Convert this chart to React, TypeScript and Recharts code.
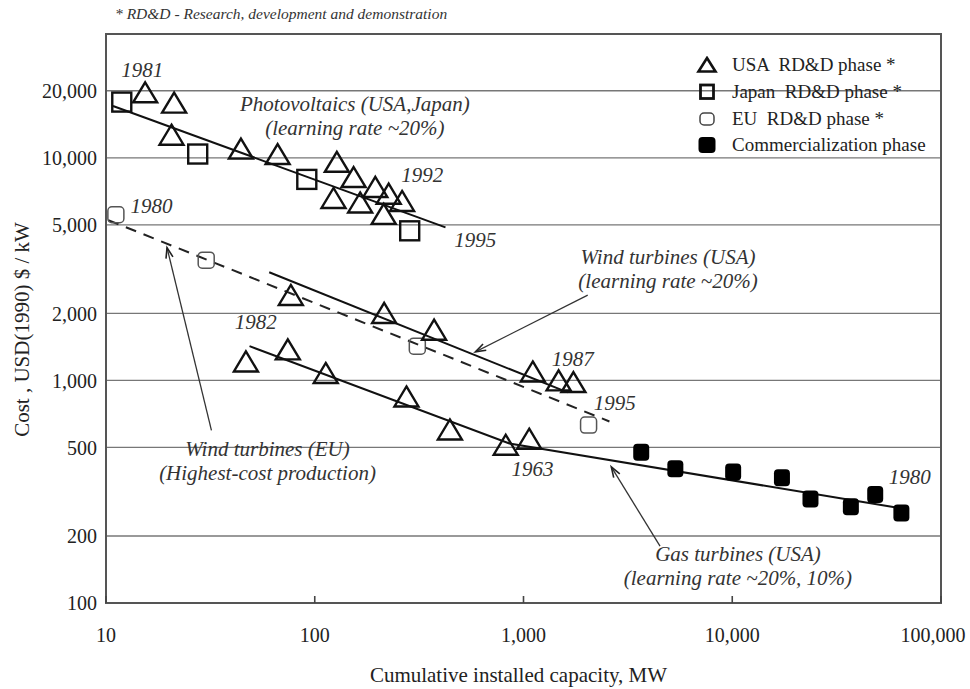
import React from "react";
import {
  ScatterChart,
  Scatter,
  XAxis,
  YAxis,
  CartesianGrid,
  ReferenceArea,
  ReferenceLine,
  ReferenceDot,
  Legend,
} from "recharts";

const FONT = '"Liberation Serif", "Times New Roman", Times, serif';

type Point = { mw: number; cost: number };

const xTicks = [10, 100, 1000, 10000, 100000];
const yTicks = [100, 200, 500, 1000, 2000, 5000, 10000, 20000];

// Photovoltaics (cumulative MW, USD(1990)/kW)
const pvUsa: Point[] = [
  { mw: 15.4, cost: 19700 },
  { mw: 21.2, cost: 17700 },
  { mw: 20.6, cost: 12700 },
  { mw: 44.3, cost: 11000 },
  { mw: 66.4, cost: 10400 },
  { mw: 127.6, cost: 9600 },
  { mw: 153.5, cost: 8200 },
  { mw: 195, cost: 7400 },
  { mw: 226, cost: 6900 },
  { mw: 262, cost: 6400 },
  { mw: 123, cost: 6600 },
  { mw: 165, cost: 6300 },
  { mw: 214, cost: 5600 },
];
const pvJapan: Point[] = [
  { mw: 11.9, cost: 17800 },
  { mw: 27.5, cost: 10400 },
  { mw: 91.6, cost: 8000 },
  { mw: 285, cost: 4700 },
];

// Wind turbines
const windEu: Point[] = [
  { mw: 11.15, cost: 5550 },
  { mw: 30.2, cost: 3470 },
  { mw: 310, cost: 1425 },
  { mw: 2050, cost: 630 },
];
const windUsa: Point[] = [
  { mw: 76.8, cost: 2420 },
  { mw: 215, cost: 2010 },
  { mw: 373, cost: 1690 },
  { mw: 1108, cost: 1097 },
  { mw: 1473, cost: 1000 },
  { mw: 1734, cost: 983 },
];

// Gas turbines
const gasUsa: Point[] = [
  { mw: 46.8, cost: 1217 },
  { mw: 74.3, cost: 1378 },
  { mw: 112.9, cost: 1080 },
  { mw: 275, cost: 847 },
  { mw: 444, cost: 602 },
  { mw: 822, cost: 514 },
  { mw: 1065, cost: 547 },
];
const gasCommercial: Point[] = [
  { mw: 3664, cost: 476 },
  { mw: 5338, cost: 401 },
  { mw: 10100, cost: 388 },
  { mw: 17300, cost: 365 },
  { mw: 23700, cost: 293 },
  { mw: 37000, cost: 271 },
  { mw: 48400, cost: 307 },
  { mw: 64600, cost: 254 },
];

// learning curves
const pvFit: Point[] = [
  { mw: 10.8, cost: 17100 },
  { mw: 423, cost: 4870 },
];
const windEuFit: Point[] = [
  { mw: 10.25, cost: 5250 },
  { mw: 2580, cost: 654 },
];
const windUsaFit: Point[] = [
  { mw: 60.5, cost: 3060 },
  { mw: 1628, cost: 883 },
];
const gasFit: Point[] = [
  { mw: 48.7, cost: 1425 },
  { mw: 856, cost: 521 },
  { mw: 66300, cost: 265 },
];

// annotations, anchored in data units
const notes = [
  { mw: 14.9, cost: 24700, lines: ["1981"] },
  { mw: 155.7, cost: 17530, lines: ["Photovoltaics (USA,Japan)", "(learning rate ~20%)"] },
  { mw: 326.9, cost: 8340, lines: ["1992"] },
  { mw: 588, cost: 4258, lines: ["1995"] },
  { mw: 16.5, cost: 6060, lines: ["1980"] },
  { mw: 4924, cost: 3593, lines: ["Wind turbines (USA)", "(learning rate ~20%)"] },
  { mw: 52.1, cost: 1823, lines: ["1982"] },
  { mw: 1720, cost: 1248, lines: ["1987"] },
  { mw: 2739, cost: 788, lines: ["1995"] },
  { mw: 1105, cost: 401, lines: ["1963"] },
  { mw: 70800, cost: 368, lines: ["1980"] },
  { mw: 59.4, cost: 494, lines: ["Wind turbines (EU)", "(Highest-cost production)"] },
  { mw: 10650, cost: 165.5, lines: ["Gas turbines (USA)", "(learning rate ~20%, 10%)"] },
];

const arrows: [Point, Point][] = [
  [{ mw: 2031, cost: 2415 }, { mw: 588, cost: 1344 }],
  [{ mw: 32, cost: 596 }, { mw: 19.6, cost: 3949 }],
  [{ mw: 4508, cost: 180 }, { mw: 2634, cost: 409 }],
];

const legendItems = [
  { kind: "usa", label: "USA  RD&D phase *" },
  { kind: "japan", label: "Japan  RD&D phase *" },
  { kind: "eu", label: "EU  RD&D phase *" },
  { kind: "com", label: "Commercialization phase" },
];

const fmt = (v: number) => v.toLocaleString("en-US");

function TriangleMark({ cx, cy }: any) {
  return (
    <path
      d={`M${cx},${cy - 10} L${cx + 12},${cy + 10} L${cx - 12},${cy + 10} Z`}
      fill="none"
      stroke="#111"
      strokeWidth={2.4}
    />
  );
}

function SquareMark({ cx, cy }: any) {
  return <rect x={cx - 9.5} y={cy - 9.5} width={19} height={19} fill="none" stroke="#111" strokeWidth={2.4} />;
}

function EuMark({ cx, cy }: any) {
  return <rect x={cx - 8} y={cy - 8} width={16} height={16} rx={4} fill="none" stroke="#555" strokeWidth={1.5} />;
}

function CommercialMark({ cx, cy }: any) {
  return <rect x={cx - 8} y={cy - 8.5} width={16} height={17} rx={4} fill="#000" />;
}

const NoMark = () => <g />;

function Arrow(props: any) {
  const { x1, y1, x2, y2 } = props;
  const a = Math.atan2(y2 - y1, x2 - x1);
  const len = 11;
  const spread = 0.33;
  const ax = x2 - len * Math.cos(a - spread);
  const ay = y2 - len * Math.sin(a - spread);
  const bx = x2 - len * Math.cos(a + spread);
  const by = y2 - len * Math.sin(a + spread);
  return (
    <g>
      <line x1={x1} y1={y1} x2={x2} y2={y2} stroke="#333" strokeWidth={1.3} />
      <path d={`M${ax},${ay} L${x2},${y2} L${bx},${by}`} fill="none" stroke="#222" strokeWidth={1.6} />
    </g>
  );
}

// bottom tick label; the last one is pulled inside the page like in the source
function XTick({ x, y, payload }: any) {
  const last = payload.value === xTicks[xTicks.length - 1];
  return (
    <text
      x={last ? x - 8 : x}
      y={y}
      dy="0.71em"
      textAnchor="middle"
      fontFamily={FONT}
      fontSize={20}
      fill="#222"
    >
      {fmt(payload.value)}
    </text>
  );
}

function LegendIcon({ kind }: { kind: string }) {
  let mark: React.ReactNode = null;
  if (kind === "usa") mark = <path d="M11,2 L19.5,15.5 L2.5,15.5 Z" fill="none" stroke="#111" strokeWidth={2.6} />;
  if (kind === "japan") mark = <rect x={4.5} y={2} width={13} height={13.5} fill="none" stroke="#111" strokeWidth={2.8} />;
  if (kind === "eu") mark = <rect x={4} y={3} width={14} height={12} rx={4} fill="none" stroke="#444" strokeWidth={1.5} />;
  if (kind === "com") mark = <rect x={2.5} y={1} width={17} height={16} rx={4} fill="#000" />;
  return (
    <svg width={22} height={18} style={{ display: "block" }}>
      {mark}
    </svg>
  );
}

function ChartLegend() {
  return (
    <div style={{ fontFamily: FONT, fontSize: 19, color: "#222" }}>
      {legendItems.map((it) => (
        <div key={it.kind} style={{ display: "flex", alignItems: "center", height: 26.7 }}>
          <LegendIcon kind={it.kind} />
          <span style={{ marginLeft: 14, whiteSpace: "pre" }}>{it.label}</span>
        </div>
      ))}
    </div>
  );
}

function XTitle(props: any) {
  const vb = props.viewBox || {};
  const x = (vb.x ?? 106) + (vb.width ?? 835) / 2 - 5;
  const y = (vb.y ?? 603) + 72;
  return (
    <text x={x} y={y} textAnchor="middle" dominantBaseline="central" fontFamily={FONT} fontSize={21} fill="#222">
      Cumulative installed capacity, MW
    </text>
  );
}

function YTitle(props: any) {
  const vb = props.viewBox || {};
  const x = (vb.x ?? 0) + 22;
  const y = (vb.y ?? 34) + (vb.height ?? 569) / 2 + 11;
  return (
    <text
      x={x}
      y={y}
      transform={`rotate(-90 ${x} ${y})`}
      textAnchor="middle"
      dominantBaseline="central"
      fontFamily={FONT}
      fontSize={21}
      fill="#222"
    >
      Cost , USD(1990) $ / kW
    </text>
  );
}

export default function App() {
  return (
    <div style={{ position: "relative", width: 970, height: 689, background: "#fff" }}>
      <style>{"body{margin:0}"}</style>
      <div
        style={{
          position: "absolute",
          left: 115,
          top: 5,
          fontFamily: FONT,
          fontStyle: "italic",
          fontSize: 15.5,
          color: "#333",
          whiteSpace: "nowrap",
        }}
      >
        * RD&amp;D - Research, development and demonstration
      </div>
      <ScatterChart width={970} height={689} margin={{ top: 34, right: 29, bottom: 0, left: 0 }}>
        <CartesianGrid vertical={false} stroke="#777" strokeWidth={1.4} />
        <XAxis
          type="number"
          dataKey="mw"
          scale="log"
          domain={[10, 100000]}
          ticks={xTicks}
          interval={0}
          allowDataOverflow
          height={86}
          axisLine={false}
          tickLine={{ stroke: "#444", strokeWidth: 1.6 }}
          tickSize={-7}
          tickMargin={32}
          tick={<XTick />}
          label={{ content: XTitle }}
        />
        <YAxis
          type="number"
          dataKey="cost"
          scale="log"
          domain={[100, 36000]}
          ticks={yTicks}
          interval={0}
          allowDataOverflow
          width={106}
          axisLine={false}
          tickLine={false}
          tickSize={6}
          tickMargin={3}
          tick={{ fontFamily: FONT, fontSize: 20, fill: "#222" }}
          tickFormatter={fmt}
          label={{ content: YTitle }}
        />
        <ReferenceArea x1={10} x2={100000} y1={100} y2={36000} fill="none" fillOpacity={0} stroke="#555" strokeWidth={2} />
        <Legend
          layout="vertical"
          align="center"
          verticalAlign="middle"
          content={() => <ChartLegend />}
          wrapperStyle={{ left: 696, top: 52, width: 260 }}
        />

        <Scatter data={pvFit} line={{ stroke: "#111", strokeWidth: 2 }} shape={NoMark} isAnimationActive={false} legendType="none" />
        <Scatter
          data={windEuFit}
          line={{ stroke: "#222", strokeWidth: 2, strokeDasharray: "11 8" }}
          shape={NoMark}
          isAnimationActive={false}
          legendType="none"
        />
        <Scatter data={windUsaFit} line={{ stroke: "#111", strokeWidth: 2 }} shape={NoMark} isAnimationActive={false} legendType="none" />
        <Scatter data={gasFit} line={{ stroke: "#111", strokeWidth: 2 }} shape={NoMark} isAnimationActive={false} legendType="none" />

        <Scatter data={pvUsa} shape={TriangleMark} isAnimationActive={false} />
        <Scatter data={pvJapan} shape={SquareMark} isAnimationActive={false} />
        <Scatter data={windEu} shape={EuMark} isAnimationActive={false} />
        <Scatter data={windUsa} shape={TriangleMark} isAnimationActive={false} />
        <Scatter data={gasUsa} shape={TriangleMark} isAnimationActive={false} />
        <Scatter data={gasCommercial} shape={CommercialMark} isAnimationActive={false} />

        {arrows.map(([from, to], i) => (
          <ReferenceLine
            key={`arrow-${i}`}
            segment={[
              { x: from.mw, y: from.cost },
              { x: to.mw, y: to.cost },
            ]}
            shape={Arrow}
          />
        ))}

        {notes.map((n, i) => (
          <ReferenceDot
            key={`note-${i}`}
            x={n.mw}
            y={n.cost}
            r={0}
            shape={(p: any) => (
              <text
                x={p.cx}
                y={p.cy}
                textAnchor="middle"
                dominantBaseline="central"
                fontFamily={FONT}
                fontStyle="italic"
                fontSize={21}
                fill="#333"
              >
                {n.lines.map((t, j) => (
                  <tspan key={j} x={p.cx} dy={j === 0 ? 0 : 24}>
                    {t}
                  </tspan>
                ))}
              </text>
            )}
          />
        ))}
      </ScatterChart>
    </div>
  );
}
